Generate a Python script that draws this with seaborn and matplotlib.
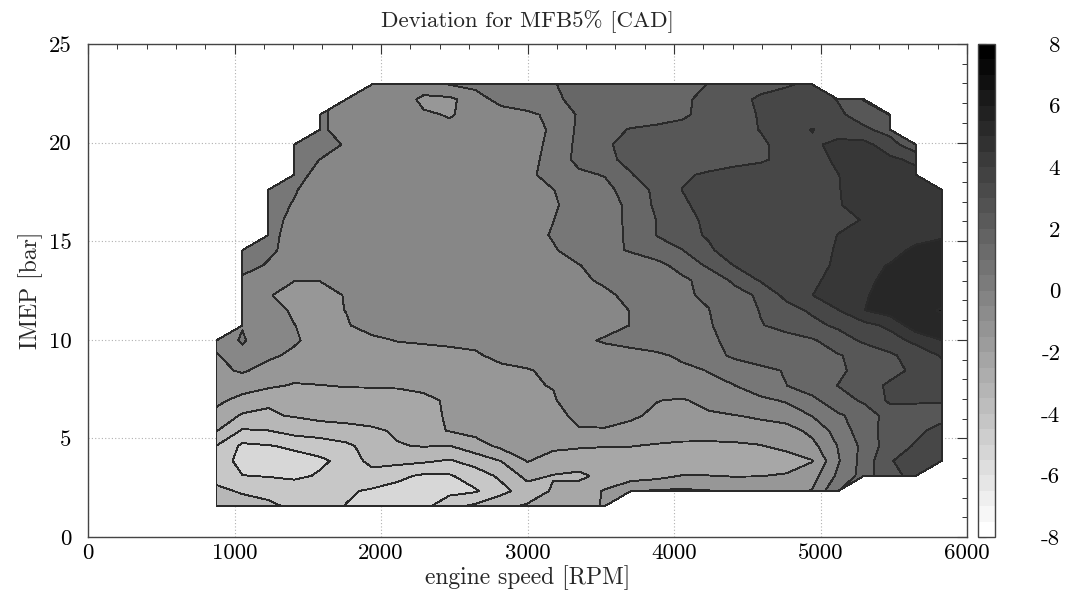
import numpy as np
import matplotlib
matplotlib.use("Agg")
import matplotlib as mpl
import matplotlib.pyplot as plt
from matplotlib.colors import Normalize
from matplotlib.ticker import MultipleLocator, FixedLocator
import seaborn as sns

# grid of the measured map
rpm = [877, 1054, 1231, 1407, 1584, 1761, 1938, 2115, 2291, 2468, 2645, 2822, 2999, 3175,
       3352, 3529, 3706, 3883, 4059, 4236, 4413, 4590, 4767, 4943, 5120, 5297, 5474, 5651, 5827]
imep = [1.57, 2.33, 3.10, 3.86, 4.62, 5.39, 6.15, 6.92, 7.68, 8.44, 9.21, 9.97, 10.73, 11.50,
        12.26, 13.02, 13.79, 14.55, 15.31, 16.08, 16.84, 17.61, 18.37, 19.13, 19.90, 20.66,
        21.42, 22.19, 22.95]
# first measured rpm column for each IMEP row
row_start = [0, 0, 0, 0, 0, 0, 0, 0, 0, 0, 0, 0, 1, 1, 1, 1, 1, 1, 2, 2, 2, 2, 3, 3, 3, 4, 4, 5, 6]
# deviation values [CAD], one list per IMEP row (bottom to top)
z_rows = [
    [-3.4, -3.6, -3.8, -4.2, -4.6, -5.02, -5.3, -5.3, -5.3, -4.3, -3.8, -3.2, -2.9, -2.7, -2.4, -1.9],
    [-3.8, -4.1, -4.3, -4.4, -4.5, -4.9, -5.1, -5.3, -5.4, -5.3, -5.1, -4.3, -3.5, -2.9, -2.6, -1.9,
     -1.05, -0.9, -0.85, -0.95, -1.2, -1.3, -1.3, -0.95, 0.98],
    [-4.3, -4.98, -5.05, -5.2, -4.9, -4.6, -4.5, -4.8, -5.15, -5.1, -4.5, -3.8, -2.7, -3.05, -3.2, -2.7,
     -2.5, -2.3, -1.95, -1.98, -2.05, -2.02, -1.9, -1.4, 0.2, 1.4, 2.9, 3.1],
    [-4.5, -5.3, -5.4, -5.3, -5.15, -4.75, -3.61, -3.7, -3.85, -4.1, -3.6, -2.97, -1.95, -2.4, -2.5, -2.6,
     -2.6, -2.65, -2.7, -2.7, -2.7, -2.65, -2.5, -2.05, -0.1, 1.4, 2.97, 3.2, 3.3],
    [-4.02, -5.2, -5.05, -4.86, -4.6, -4.2, -3.61, -3.05, -2.95, -3.02, -2.4, -1.77, -1.7, -1.8, -1.9, -1.95,
     -1.97, -2.1, -2.2, -2.25, -2.2, -2.05, -1.7, -1.3, 0.05, 1.3, 2.5, 3.1, 3.4],
    [-2.95, -4.1, -4.02, -3.6, -3.45, -3.35, -3.15, -2.88, -2.3, -1.95, -1.7, -1.6, -1.5, -1.4, -1.05, -1.05,
     -1.2, -1.4, -1.5, -1.45, -1.4, -1.35, -1.45, -0.72, 0.4, 1.56, 2.4, 2.8, 3.3],
    [-2.35, -3.12, -3.1, -2.94, -2.75, -2.65, -2.6, -2.45, -2.2, -1.92, -1.7, -1.6, -1.45, -1.2, -0.85, -0.8,
     -0.9, -1.13, -1.25, -1.15, -1.03, -0.88, -0.5, 0.02, 0.85, 1.45, 2.4, 2.6, 2.7],
    [-1.75, -2.37, -2.9, -2.6, -2.5, -2.4, -2.3, -2.2, -2.1, -1.94, -1.75, -1.6, -1.4, -1.1, -0.43, -0.6,
     -0.8, -0.98, -1.1, -0.7, -0.4, -0.2, 0.09, 0.75, 1.58, 2.14, 3.18, 3.1, 3.05],
    [-1.4, -1.5, -1.8, -2.1, -2.02, -1.95, -1.95, -1.95, -1.9, -1.75, -1.55, -1.35, -1.1, -0.96, -0.8, -0.7,
     -0.6, -0.5, -0.35, -0.2, -0.01, 0.5, 0.99, 1.5, 2.02, 2.6, 3.15, 3.4, 3.5],
    [-1.2, -0.9, -1.3, -1.5, -1.6, -1.7, -1.75, -1.75, -1.7, -1.55, -1.4, -1.2, -1.05, -0.85, -0.7, -0.55,
     -0.45, -0.35, -0.2, 0.03, 0.4, 0.8, 1.06, 1.5, 1.8, 2.39, 2.7, 3.2, 3.5],
    [-1.1, -0.25, -0.85, -1.15, -1.35, -1.5, -1.5, -1.4, -1.3, -1.2, -1.1, -0.77, -0.7, -0.65, -0.55, -0.4,
     -0.3, -0.15, 0.17, 0.6, 1.19, 1.4, 1.6, 1.8, 1.95, 2.23, 2.85, 3.4, 4.1],
    [-0.5, 0.1, -0.6, -0.9, -1.3, -1.4, -1.2, -0.96, -0.9, -0.85, -0.8, -0.75, -0.65, -0.5, -0.2, 0.1,
     0.3, 0.5, 0.7, 0.85, 1.22, 1.5, 1.7, 1.9, 2.45, 3.2, 3.6, 4.25, 4.99],
    [-0.05, -0.8, -0.99, -1.16, -1.08, -0.64, -0.8, -0.85, -0.85, -0.8, -0.75, -0.7, -0.6, -0.5, -0.3,
     0.02, 0.4, 0.7, 0.9, 1.52, 1.95, 2.26, 2.7, 3.2, 3.7, 4.21, 5.6, 5.8],
    [-0.6, -0.8, -1.07, -1.2, -0.985, -0.9, -0.85, -0.85, -0.8, -0.75, -0.7, -0.65, -0.55, -0.45, -0.3,
     0.03, 0.4, 0.7, 0.98, 1.5, 2.04, 2.6, 3.17, 3.98, 4.98, 5.5, 5.8, 6.05],
    [-0.5, -0.95, -1.26, -1.25, -0.96, -0.9, -0.85, -0.85, -0.8, -0.75, -0.7, -0.65, -0.5, -0.35, -0.15,
     0.2, 0.5, 0.9, 1.11, 1.6, 2.18, 3.29, 3.99, 4.4, 4.9, 5.4, 5.6, 5.7],
    [-0.3, -0.6, -0.98, -0.98, -0.9, -0.85, -0.85, -0.85, -0.8, -0.75, -0.7, -0.6, -0.4, -0.15, 0.13,
     0.4, 0.6, 0.85, 1.3, 2.21, 3.09, 3.4, 3.75, 4.46, 4.85, 5.17, 5.4, 5.5],
    [0.6, -0.14, -0.6, -0.7, -0.75, -0.8, -0.8, -0.8, -0.8, -0.75, -0.65, -0.5, -0.3, -0.02, 0.3,
     0.5, 0.75, 1.33, 2.19, 3.05, 3.4, 3.6, 3.75, 4.12, 4.8, 5.04, 5.3, 5.4],
    [0.4, 0.3, -0.56, -0.65, -0.75, -0.8, -0.8, -0.8, -0.8, -0.75, -0.7, -0.5, -0.1, 0.46, 0.75,
     1.09, 1.5, 1.99, 2.8, 3.7, 3.7, 3.75, 3.8, 4.05, 4.4, 4.7, 5.17, 5.3],
    [0.3, -0.38, -0.6, -0.7, -0.75, -0.8, -0.8, -0.8, -0.75, -0.7, -0.4, 0.09, 0.5, 0.8, 1.09,
     2.04, 2.6, 3.13, 3.3, 3.4, 3.5, 3.6, 4.02, 4.3, 4.5, 4.7, 4.9],
    [0.4, -0.28, -0.6, -0.75, -0.8, -0.85, -0.85, -0.85, -0.8, -0.7, -0.5, -0.02, 0.65, 0.8, 1.1,
     2.03, 2.5, 3.32, 3.4, 3.5, 3.55, 3.6, 3.8, 4.04, 4.5, 4.7, 4.8],
    [0.4, -0.07, -0.6, -0.75, -0.8, -0.85, -0.85, -0.85, -0.8, -0.7, -0.5, -0.15, 0.5, 0.75, 1.14,
     2.23, 2.85, 3.37, 3.5, 3.55, 3.6, 3.7, 3.9, 4.57, 4.7, 4.8, 4.8],
    [0.5, 0.1, -0.57, -0.75, -0.8, -0.85, -0.85, -0.85, -0.8, -0.7, -0.5, -0.02, 0.48, 0.7, 1.49,
     2.22, 3.02, 3.3, 3.4, 3.5, 3.6, 3.7, 3.95, 4.5, 4.6, 4.7, 4.6],
    [0.5, -0.41, -0.7, -0.8, -0.85, -0.85, -0.85, -0.8, -0.6, -0.25, 0.44, 0.8, 1.06, 1.95, 2.5,
     2.9, 3.11, 3.3, 3.4, 3.5, 3.7, 3.98, 4.4, 4.5, 4.3],
    [0.5, -0.02, -0.6, -0.8, -0.85, -0.85, -0.85, -0.8, -0.6, -0.3, 0.33, 1.31, 1.8, 2.22, 2.4,
     2.5, 2.6, 2.75, 2.9, 3.2, 3.5, 4.23, 4.3, 4.2, 3.8],
    [0.7, 0.6, -0.13, -0.5, -0.8, -0.85, -0.85, -0.8, -0.6, -0.3, 0.2, 1.28, 1.9, 2.23, 2.4,
     2.5, 2.6, 2.8, 2.9, 3.21, 3.8, 4.3, 4.3, 3.47, 2.2],
    [0.3, -0.7, -0.85, -0.9, -0.9, -0.85, -0.7, -0.5, -0.4, 0.15, 1.2, 1.7, 2.06, 2.2, 2.3,
     2.5, 2.8, 3.02, 3.4, 4.05, 3.5, 3.2, 2.6],
    [0.3, -0.7, -0.8, -0.85, -0.9, -1.05, -0.8, -0.5, -0.2, 0.23, 1.12, 1.3, 1.45, 1.6, 1.85,
     2.33, 2.6, 3.08, 3.3, 3.4, 3.2, 2.5, 1.98],
    [-0.6, -0.55, -0.5, -1.2, -1.2, -0.5, 0.4, 0.6, 0.8, 1.3, 1.4, 1.5, 1.6, 1.85, 2.25,
     2.6, 3.2, 3.4, 3.5, 2.95, 1.95],
    [-0.6, -0.5, -0.5, 0.03, 0.3, 0.5, 0.7, 0.95, 1.3, 1.45, 1.55, 1.65, 1.8, 2.02, 2.4,
     2.6, 2.9, 3.2],
]
levels = list(range(-8, 9))
cbar_ticks = [-8, -6, -4, -2, 0, 2, 4, 6, 8]
x_ticks = [0, 1000, 2000, 3000, 4000, 5000, 6000]
y_ticks = [0, 5, 10, 15, 20, 25]

sns.set_theme(style="white")
plt.rcParams['font.family'] = ['cmr10', 'DejaVu Serif']
plt.rcParams['mathtext.fontset'] = 'cm'
plt.rcParams['axes.unicode_minus'] = False
plt.rcParams['axes.formatter.use_mathtext'] = True

Z = np.full((len(imep), len(rpm)), np.nan)
for j, (s, row) in enumerate(zip(row_start, z_rows)):
    Z[j, s:s + len(row)] = row
Zm = np.ma.masked_invalid(Z)

W, H = 1071, 595
fig = plt.figure(figsize=(W / 100, H / 100), dpi=100)
ax = fig.add_axes([88 / W, 1 - 537 / H, (967 - 88) / W, (537 - 44) / H])
cax = fig.add_axes([978 / W, 1 - 537 / H, 17 / W, (537 - 44) / H])

cmap = sns.color_palette("gray_r", as_cmap=True)
norm = Normalize(-8, 8)
cs = ax.contourf(rpm, imep, Zm, levels=levels, cmap=cmap, norm=norm, corner_mask=True, zorder=2)
cs.set_edgecolor('#2a2a2a')
cs.set_linewidth(0.65)

ax.set_xlim(0, 6000)
ax.set_ylim(0, 25)
ax.xaxis.set_major_locator(FixedLocator(x_ticks))
ax.yaxis.set_major_locator(FixedLocator(y_ticks))
ax.xaxis.set_minor_locator(MultipleLocator(200))
ax.yaxis.set_minor_locator(MultipleLocator(1))
ax.set_xticklabels([str(v) for v in x_ticks])
ax.set_yticklabels([str(v) for v in y_ticks])
ax.tick_params(which='both', direction='in', top=True, right=True, colors='#333333',
               labelcolor='black', labelsize=16.5)
ax.tick_params(which='major', length=7, width=0.8, pad=5)
ax.tick_params(which='minor', length=3.5, width=0.7)
ax.tick_params(axis='y', which='major', pad=12)
ax.set_axisbelow(True)
ax.grid(True, which='major', linestyle=(0, (1, 2)), color='#b0b0b0', linewidth=0.8)
for sp in ax.spines.values():
    sp.set_color('#444444')
    sp.set_linewidth(1.0)

ax.set_title('Deviation for MFB5% [CAD]', fontsize=16.5, pad=12)
ax.set_xlabel('engine speed [RPM]', fontsize=17, labelpad=1)
ax.set_ylabel('IMEP [bar]', fontsize=17, labelpad=4)

cmap32 = cmap.resampled(32)
sm = mpl.cm.ScalarMappable(norm=norm, cmap=cmap32)
cb = fig.colorbar(sm, cax=cax, ticks=cbar_ticks)
cb.outline.set_edgecolor('#444444')
cb.outline.set_linewidth(1.0)
cax.set_yticklabels([str(v) for v in cbar_ticks])
cax.tick_params(direction='in', length=6, width=0.8, left=True, right=False, colors='#222222',
                labelcolor='black', labelsize=16.5, pad=47, labelleft=False, labelright=True)
for lab in cax.get_yticklabels():
    lab.set_horizontalalignment('right')

fig.savefig('out.png', dpi=100)
